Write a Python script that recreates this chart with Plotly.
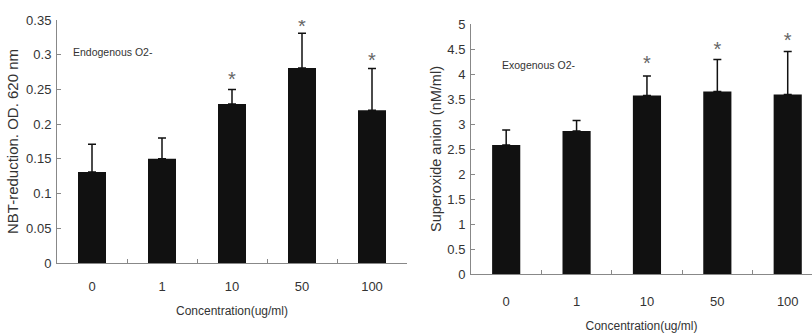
import plotly.graph_objects as go

categories = ["0", "1", "10", "50", "100"]

endo_values = [0.131, 0.150, 0.229, 0.281, 0.220]
endo_err_plus = [0.040, 0.030, 0.021, 0.050, 0.060]
endo_star_y = [0.262, 0.338, 0.290]
endo_star_x = ["10", "50", "100"]

exo_values = [2.58, 2.86, 3.57, 3.65, 3.59]
exo_err_plus = [0.30, 0.21, 0.39, 0.64, 0.86]
exo_star_y = [4.18, 4.47, 4.65]
exo_star_x = ["10", "50", "100"]

left_ticks = [0, 0.05, 0.1, 0.15, 0.2, 0.25, 0.3, 0.35]
left_ticktext = ["0", "0.05", "0.1", "0.15", "0.2", "0.25", "0.3", "0.35"]
right_ticks = [0, 0.5, 1, 1.5, 2, 2.5, 3, 3.5, 4, 4.5, 5]
right_ticktext = ["0", "0.5", "1", "1.5", "2", "2.5", "3", "3.5", "4", "4.5", "5"]

W, H = 812, 333
FONT = "Liberation Sans, Arial, sans-serif"
BAR = "#111111"
TXT = "#333333"

fig = go.Figure()

fig.add_trace(go.Bar(
    x=categories, y=endo_values, width=0.4, marker_color=BAR, marker_line_width=0,
    error_y=dict(type="data", symmetric=False, array=endo_err_plus,
                 arrayminus=[0] * 5, color="#111", thickness=1.5, width=4),
    xaxis="x", yaxis="y", showlegend=False))
fig.add_trace(go.Scatter(
    x=endo_star_x, y=endo_star_y, mode="text", text=["*"] * 3,
    textfont=dict(size=20, color="#666", family=FONT),
    xaxis="x", yaxis="y", showlegend=False))

fig.add_trace(go.Bar(
    x=categories, y=exo_values, width=0.4, marker_color=BAR, marker_line_width=0,
    error_y=dict(type="data", symmetric=False, array=exo_err_plus,
                 arrayminus=[0] * 5, color="#111", thickness=1.5, width=4),
    xaxis="x2", yaxis="y2", showlegend=False))
fig.add_trace(go.Scatter(
    x=exo_star_x, y=exo_star_y, mode="text", text=["*"] * 3,
    textfont=dict(size=20, color="#666", family=FONT),
    xaxis="x2", yaxis="y2", showlegend=False))

axis_common = dict(showline=True, linecolor="#888", linewidth=1, showgrid=False,
                   zeroline=False, ticks="inside", tickcolor="#888", ticklen=4,
                   automargin=False,
                   tickfont=dict(size=13, color=TXT, family=FONT))

fig.update_layout(
    width=W, height=H,
    margin=dict(l=0, r=0, t=0, b=0),
    paper_bgcolor="white", plot_bgcolor="white",
    font=dict(family=FONT, color=TXT),
    xaxis=dict(domain=[57 / W, 407 / W], type="category", range=[-0.5, 4.5],
               tickson="boundaries", anchor="y",
               ticklabelstandoff=11,
               title=dict(text="Concentration(ug/ml)", font=dict(size=12, color=TXT), standoff=14),
               **axis_common),
    yaxis=dict(domain=[(H - 263) / H, (H - 20) / H], range=[0, 0.35],
               tickvals=left_ticks, ticktext=left_ticktext, anchor="x",
               ticklabelstandoff=2,
               title=dict(text="NBT-reduction. OD. 620 nm", font=dict(size=15, color=TXT), standoff=3),
               **axis_common),
    xaxis2=dict(domain=[471 / W, 1.0], type="category", range=[-0.5, 4.345],
                tickson="boundaries", anchor="y2",
                ticklabelstandoff=15,
                title=dict(text="Concentration(ug/ml)", font=dict(size=12, color=TXT), standoff=14),
                **axis_common),
    yaxis2=dict(domain=[(H - 274) / H, (H - 24) / H], range=[0, 5],
                tickvals=right_ticks, ticktext=right_ticktext, anchor="x2",
                ticklabelstandoff=2,
                title=dict(text="Superoxide anion (nM/ml)", font=dict(size=14.5, color=TXT), standoff=2),
                **axis_common),
    annotations=[
        dict(text="Endogenous O2-", x=71 / W, y=(H - 52) / H, xref="paper", yref="paper",
             xanchor="left", yanchor="middle", showarrow=False,
             font=dict(size=10.5, color=TXT, family=FONT)),
        dict(text="Exogenous O2-", x=500 / W, y=(H - 65) / H, xref="paper", yref="paper",
             xanchor="left", yanchor="middle", showarrow=False,
             font=dict(size=10.5, color=TXT, family=FONT)),
    ],
)

fig.write_html("out.html", config={"displayModeBar": False},
               post_script="document.body.style.margin='0';document.body.style.overflow='hidden';")
